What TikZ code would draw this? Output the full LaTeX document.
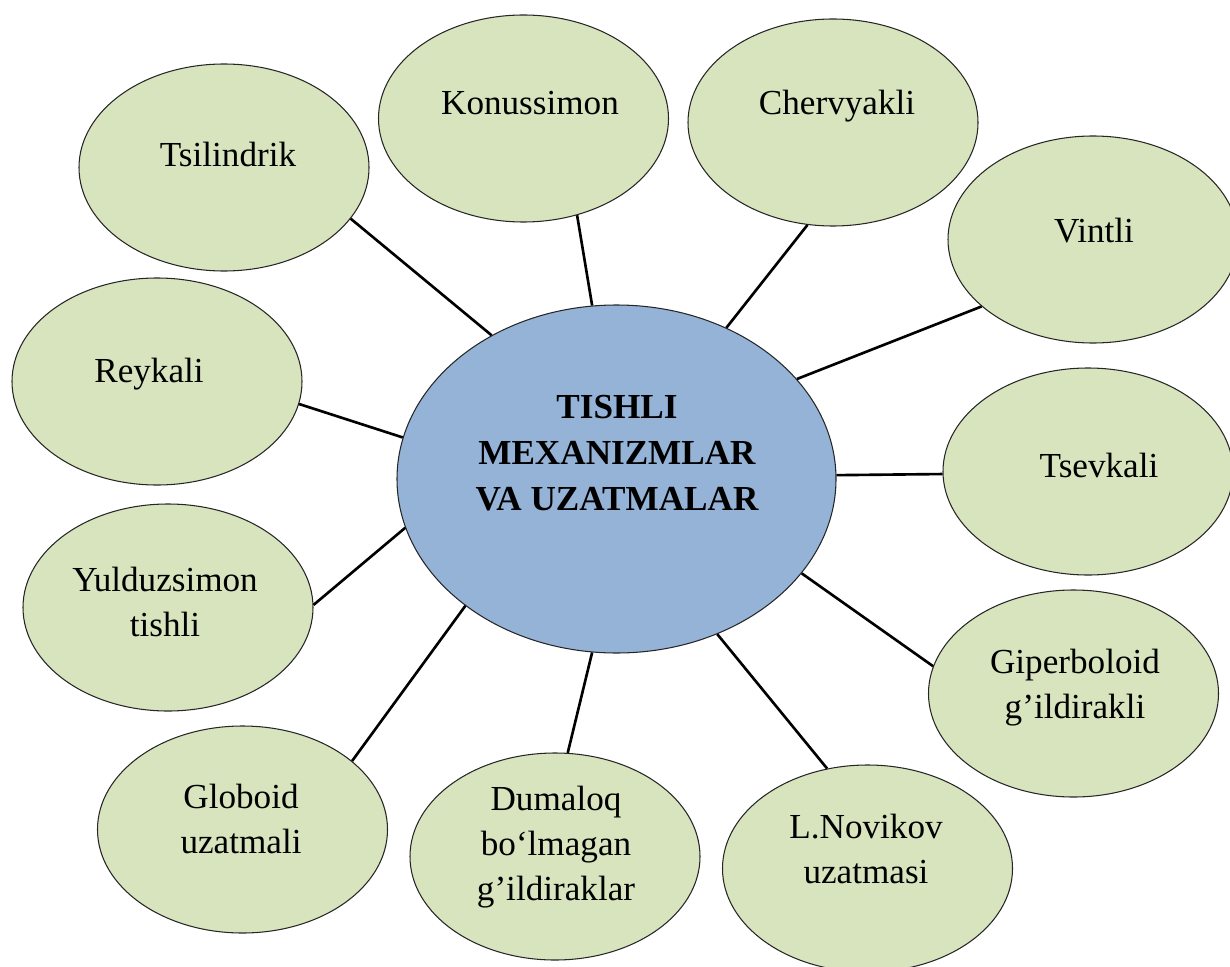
\documentclass[tikz,border=0pt]{standalone}
\usepackage{fontspec}
\setmainfont{Liberation Serif}
\usetikzlibrary{shapes.geometric}
\definecolor{leafgreen}{HTML}{D7E4BD}
\definecolor{hubblue}{HTML}{95B3D7}
\definecolor{rim}{HTML}{262626}

\begin{document}
\begin{tikzpicture}[x=0.2mm, y=-0.2mm,
          leaf/.style={ellipse, draw=rim, fill=leafgreen, line width=0.6pt, inner sep=0pt,
                       minimum width=58mm, minimum height=41.4mm},
          hub/.style={leaf, fill=hubblue, minimum width=87.8mm, minimum height=69.6mm},
          lbl/.style={align=center, anchor=base, inner sep=0pt, font=\fontsize{20}{25.6}\selectfont},
          hublbl/.style={lbl, font=\fontsize{20}{26.1}\selectfont\bfseries},
          link/.style={line width=1.5pt, black}]
        \useasboundingbox (0,0) rectangle (1230,967);
        \node[hub] (hub) at (616.5,479) {};
        \node[leaf] (tsil) at (224,167.5) {};
        \node[leaf] (kon) at (523.5,118.5) {};
        \node[leaf] (cherv) at (833,122.5) {};
        \node[leaf] (vint) at (1093,239.5) {};
        \node[leaf] (reyk) at (157,381.5) {};
        \node[leaf] (tsev) at (1088,471.5) {};
        \node[leaf] (yuld) at (168,607.5) {};
        \node[leaf] (giper) at (1073.5,693.5) {};
        \node[leaf] (glob) at (242.5,829.5) {};
        \node[leaf] (dum) at (555,856.5) {};
        \node[leaf] (nov) at (867.5,868.5) {};
        % texts (y = baseline of last line)
        \node[hublbl] (hubT) at (617,510) {TISHLI\\MEXANIZMLAR\\VA UZATMALAR};
        \node[lbl] (tsilT) at (228,167) {Tsilindrik};
        \node[lbl] (konT) at (530,115) {Konussimon};
        \node[lbl] (chervT) at (837,115) {Chervyakli};
        \node[lbl] (vintT) at (1094,243) {Vintli};
        \node[lbl] (reykT) at (149,382) {Reykali};
        \node[lbl] (tsevT) at (1099,477) {Tsevkali};
        \node[lbl] (yuldT) at (165,636) {Yulduzsimon\\tishli};
        \node[lbl] (giperT) at (1075,718) {Giperboloid\\g’ildirakli};
        \node[lbl] (globT) at (241,853) {Globoid\\uzatmali};
        \node[lbl] (dumT) at (556,900) {Dumaloq\\bo‘lmagan\\g’ildiraklar};
        \node[lbl] (novT) at (866,883) {L.Novikov\\uzatmasi};
        % spokes
        \foreach \a/\n/\b in {131/tsil/-22, 98/kon/-61, 54/cherv/256, 29/vint/211, 1/tsev/181,
                              -27/giper/169, -57/nov/112, 262/dum/83, 220/glob/32, -167/yuld/1, 169/reyk/-9}
          {\draw[link] (hub.\a) -- (\n.\b);}
      \end{tikzpicture}
\end{document}
